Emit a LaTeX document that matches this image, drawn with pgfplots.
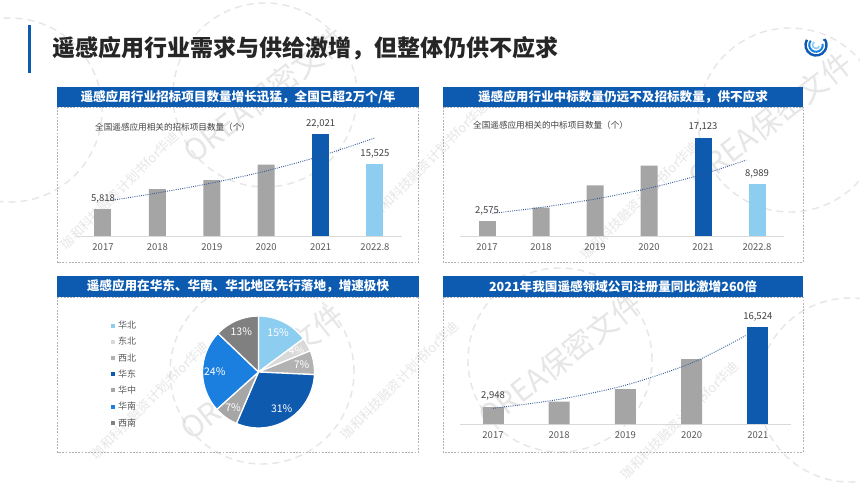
\documentclass[border=0pt]{standalone}
\usepackage{fontspec}
\setmainfont{Noto Sans CJK SC}
\usepackage{pgfplots}
\pgfplotsset{compat=1.18}

\definecolor{hblue}{HTML}{0D5BB0}
\definecolor{dblue}{HTML}{0E5AAE}
\definecolor{lblue}{HTML}{8DCDF0}
\definecolor{mblue}{HTML}{1B7FDF}
\definecolor{gbar}{HTML}{A5A5A5}
\definecolor{tick}{HTML}{595959}
\definecolor{lbl}{HTML}{404040}
\definecolor{ttl}{HTML}{262626}
\definecolor{trend}{HTML}{2F5597}
\definecolor{wm}{HTML}{C8C8C8}

\pgfplotsset{
  barax/.style={
    scale only axis, anchor=south west, clip=false,
    axis y line=none, axis x line=bottom,
    x axis line style={draw=black!15, line width=0.8pt, -},
    ymin=0, major tick length=0pt,
    tick label style={font=\fontsize{9.5}{10}\selectfont, text=tick},
    xticklabel style={yshift=-4pt},
  },
  lab/.style={
    nodes near coords, point meta=y,
    every node near coord/.append style={anchor=south, yshift=2.5pt,
      font=\fontsize{9.5}{10}\selectfont, text=lbl},
    /pgf/number format/.cd, fixed, precision=0, 1000 sep={,}, assume math mode=true,
  },
  trendline/.style={trend, line width=0.9pt, dash pattern=on 0.9pt off 1.3pt, smooth},
}

\newcommand\hdr[5]{% x1 y1 x2 y2 text
  \fill[hblue] (#1pt,-#2pt) rectangle (#3pt,-#4pt);
  \node[white, font=\fontsize{12.6}{14}\selectfont\bfseries, inner sep=0pt]
    at ({(#1+#3)/2*1pt},{-(#2+#4)/2*1pt}) {#5};
}
\newcommand\pieslice[4]{%
  \fill[#3, draw=white, line width=1.3pt] (axis cs:0,0)
    -- (axis cs:{cos(90-3.56436*#1)},{sin(90-3.56436*#1)})
    arc[start angle={90-3.56436*#1}, end angle={90-3.56436*(#1+#2)}, radius=1] -- cycle;
}
\newcommand\pielabel[3]{%
  \node[white, font=\fontsize{10.5}{11}\selectfont]
    at (axis cs:{0.78*cos(90-3.56436*(#1+#2/2))},{0.78*sin(90-3.56436*(#1+#2/2))}) {#3};
}

\begin{document}
\begin{tikzpicture}
\useasboundingbox (0,0) rectangle (860pt,-484pt);
\fill[white] (0,0) rectangle (860pt,-484pt);

% watermark
\begin{scope}
  \clip (0,0) rectangle (860pt,-484pt);
  \begin{scope}[wm, opacity=0.45]
  \foreach \cx/\cy in {265/95, 790/120, 262/372, 560/360, 850/390, 10/110}{
    \draw[line width=1.4pt, dash pattern=on 7pt off 5pt] (\cx pt,-\cy pt) circle (92pt);
  }
  \foreach \cx/\cy in {265/95, 770/120, 262/372, 560/360}{
    \node[rotate=38, font=\fontsize{30}{30}\selectfont] at (\cx pt,-\cy pt) {OREA保密文件};
  }
  \foreach \x/\y in {120/190, 430/160, 640/200, 150/400, 400/380, 680/420}{
    \node[rotate=45, font=\fontsize{13}{13}\selectfont] at (\x pt,-\y pt) {珈和科技融资计划书for华迪};
  }
  \end{scope}
\end{scope}

% title
\fill[hblue] (27.5pt,-25pt) rectangle (31pt,-73pt);
\node[anchor=west, inner sep=0pt, text=ttl, font=\fontsize{23}{25}\selectfont\bfseries]
  at (52pt,-48pt) {遥感应用行业需求与供给激增，但整体仍供不应求};

% logo
\begin{scope}[shift={(816pt,-45pt)}]
  \fill[white] (0,0) circle (12.5pt);
  \draw[hblue, line width=2.4pt] (0,0) ++(150:10.5pt) arc[start angle=150, end angle=395, radius=10.5pt];
  \draw[mblue, line width=2pt] (0,0) ++(140:6.8pt) arc[start angle=140, end angle=370, radius=6.8pt];
  \draw[lblue, line width=1.6pt] (0,0) ++(120:3.5pt) arc[start angle=120, end angle=340, radius=3.5pt];
  \fill[hblue] (8pt,5pt) circle (1.2pt);
\end{scope}

% panel frames
\foreach \a/\b/\c/\d in {57.5/107/418.5/262, 443/107/803/262, 57.5/297/418.5/452, 443/297/803/452}{
  \draw[black!30, line width=0.6pt, dash pattern=on 1.8pt off 1.4pt] (\a pt,-\b pt) rectangle (\c pt,-\d pt);
}
\hdr{57}{87}{419}{107}{遥感应用行业招标项目数量增长迅猛，全国已超2万个/年}
\hdr{443}{87}{803}{107}{遥感应用行业中标数量仍远不及招标数量，供不应求}
\hdr{57}{276}{419}{297}{遥感应用在华东、华南、华北地区先行落地，增速极快}
\hdr{443}{276}{803}{297}{2021年我国遥感领域公司注册量同比激增260倍}

\node[anchor=west, inner sep=0pt, text=lbl, font=\fontsize{8.6}{9}\selectfont] at (95pt,-127pt) {全国遥感应用相关的招标项目数量（个）};
\node[anchor=west, inner sep=0pt, text=lbl, font=\fontsize{8.6}{9}\selectfont] at (473pt,-125pt) {全国遥感应用相关的中标项目数量（个）};

% panel 1
\begin{axis}[barax, at={(75.8pt,-236pt)}, width=326.4pt, height=115.7pt,
  xmin=-0.5, xmax=5.5, ymax=25000,
  xtick={0,...,5}, xticklabels={2017,2018,2019,2020,2021,2022.8}]
  \addplot[ybar, bar width=17pt, bar shift=0pt, fill=gbar, draw=none] coordinates {(1,10150) (2,12100) (3,15400)};
  \addplot[ybar, bar width=17pt, bar shift=0pt, fill=gbar, draw=none, lab] coordinates {(0,5818)};
  \addplot[ybar, bar width=17pt, bar shift=0pt, fill=dblue, draw=none, lab] coordinates {(4,22021)};
  \addplot[ybar, bar width=17pt, bar shift=0pt, fill=lblue, draw=none, lab] coordinates {(5,15525)};
  \addplot[trendline] coordinates {(0.1,7600) (1,9300) (2,11450) (3,14070) (4,17280) (5,21200)};
\end{axis}

% panel 2
\begin{axis}[barax, at={(460pt,-236pt)}, width=324pt, height=114.8pt,
  xmin=-0.5, xmax=5.5, ymax=20000,
  xtick={0,...,5}, xticklabels={2017,2018,2019,2020,2021,2022.8}]
  \addplot[ybar, bar width=17pt, bar shift=0pt, fill=gbar, draw=none] coordinates {(1,4930) (2,8830) (3,12250)};
  \addplot[ybar, bar width=17pt, bar shift=0pt, fill=gbar, draw=none, lab] coordinates {(0,2575)};
  \addplot[ybar, bar width=17pt, bar shift=0pt, fill=dblue, draw=none, lab] coordinates {(4,17123)};
  \addplot[ybar, bar width=17pt, bar shift=0pt, fill=lblue, draw=none, lab] coordinates {(5,8989)};
  \addplot[trendline] coordinates {(0.1,3950) (1,4980) (2,6435) (3,8320) (4,10760) (4.8,13220)};
\end{axis}

% panel 4
\begin{axis}[barax, at={(459.9pt,-424pt)}, width=331pt, height=117pt,
  xmin=-0.5, xmax=4.5, ymax=20000,
  xtick={0,...,4}, xticklabels={2017,2018,2019,2020,2021}]
  \addplot[ybar, bar width=21pt, bar shift=0pt, fill=gbar, draw=none] coordinates {(1,3810) (2,5980) (3,11110)};
  \addplot[ybar, bar width=21pt, bar shift=0pt, fill=gbar, draw=none, lab] coordinates {(0,2948)};
  \addplot[ybar, bar width=21pt, bar shift=0pt, fill=dblue, draw=none, lab] coordinates {(4,16524)};
  \addplot[trendline] coordinates {(0,2680) (1,4215) (2,6630) (3,10430) (3.83,15200)};
\end{axis}

% panel 3 pie
\begin{axis}[at={(202.5pt,-428pt)}, anchor=south west, scale only axis,
  width=112pt, height=112pt, xmin=-1, xmax=1, ymin=-1, ymax=1, hide axis, clip=false]
  \pieslice{0}{15}{lblue}{华北}
  \pieslice{15}{4}{black!15}{东北}
  \pieslice{19}{7}{black!30}{西北}
  \pieslice{26}{31}{dblue}{华东}
  \pieslice{57}{7}{black!35}{华中}
  \pieslice{64}{24}{mblue}{华南}
  \pieslice{88}{13}{black!50}{西南}
  \pielabel{0}{15}{15\%}
  \pielabel{15}{4}{4\%}
  \pielabel{19}{7}{7\%}
  \pielabel{26}{31}{31\%}
  \pielabel{57}{7}{7\%}
  \pielabel{64}{24}{24\%}
  \pielabel{88}{13}{13\%}
\end{axis}

% pie legend
\foreach \n/\c/\y in {华北/lblue/325.5, 东北/black!15/341.5, 西北/black!30/358, 华东/dblue/374, 华中/black!35/390, 华南/mblue/406.5, 西南/black!50/423}{
  \fill[\c] (111pt,{-\y*1pt-2pt}) rectangle (115pt,{-\y*1pt+2pt});
  \node[anchor=west, inner sep=0pt, text=tick, font=\fontsize{9}{10}\selectfont] at (118pt,-\y pt) {\n};
}
\end{tikzpicture}
\end{document}
